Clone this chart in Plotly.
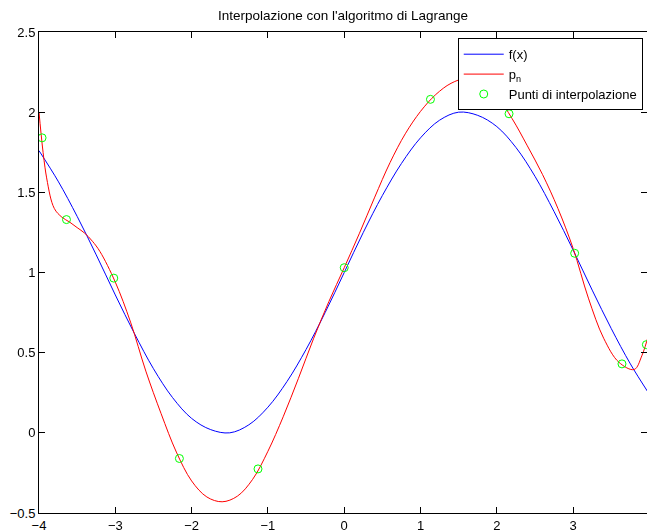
import plotly.graph_objects as go

# f(x) (blue curve)
x_f = [-4.0, -3.75, -3.5, -3.25, -3.0, -2.75, -2.5, -2.25, -2.0, -1.75, -1.5, -1.25,
       -1.0, -0.75, -0.5, -0.25, 0.0, 0.25, 0.5, 0.75, 1.0, 1.25, 1.5, 1.75,
       2.0, 2.25, 2.5, 2.75, 3.0, 3.25, 3.5, 3.75, 4.0]
y_f = [1.76, 1.57, 1.35, 1.11, 0.86, 0.62, 0.40, 0.22, 0.09, 0.02, 0.00, 0.05,
       0.16, 0.32, 0.52, 0.75, 1.00, 1.25, 1.48, 1.68, 1.84, 1.95, 2.00, 1.98,
       1.91, 1.78, 1.60, 1.38, 1.14, 0.89, 0.65, 0.43, 0.24]

# p_n (red curve)
x_pn = [-4.0, -3.9, -3.8, -3.7, -3.6, -3.5, -3.4, -3.3, -3.2, -3.0, -2.8, -2.6,
        -2.4, -2.2, -2.0, -1.8, -1.6, -1.4, -1.2, -1.0, -0.8, -0.6, -0.4, -0.2,
        0.0, 0.2, 0.4, 0.6, 0.8, 1.0, 1.2, 1.4, 1.6, 1.8, 2.0, 2.2, 2.4, 2.6,
        2.8, 3.0, 3.2, 3.4, 3.6, 3.8, 3.9, 4.0]
y_pn = [2.00, 1.59, 1.40, 1.345, 1.315, 1.28, 1.245, 1.195, 1.13, 0.94, 0.69, 0.385,
        0.12, -0.12, -0.30, -0.40, -0.43, -0.395, -0.29, -0.115, 0.10, 0.34, 0.59, 0.82,
        1.03, 1.245, 1.47, 1.685, 1.865, 2.005, 2.11, 2.18, 2.21, 2.18, 2.10, 1.96, 1.79, 1.61,
        1.40, 1.15, 0.84, 0.59, 0.44, 0.395, 0.48, 0.63]

# interpolation points
x_pts = [-3.96, -3.64, -3.02, -2.16, -1.13, 0.0, 1.13, 2.16, 3.02, 3.64, 3.96]
y_pts = [1.84, 1.33, 0.965, -0.16, -0.225, 1.03, 2.08, 1.99, 1.12, 0.43, 0.55]

x_ticks = [-4, -3, -2, -1, 0, 1, 2, 3, 4]
y_ticks = [-0.5, 0, 0.5, 1, 1.5, 2, 2.5]

FONT = "Liberation Sans, Arial, Helvetica, sans-serif"

fig = go.Figure()
fig.add_trace(go.Scatter(x=x_f, y=y_f, mode="lines", name="f(x)",
                         line=dict(color="#0000ff", width=1, shape="spline", smoothing=1)))
fig.add_trace(go.Scatter(x=x_pn, y=y_pn, mode="lines", name="p<sub>n</sub>",
                         line=dict(color="#ff0000", width=1, shape="spline", smoothing=1)))
fig.add_trace(go.Scatter(x=x_pts, y=y_pts, mode="markers", name="Punti di interpolazione",
                         marker=dict(symbol="circle-open", color="#00ff00", size=8,
                                     line=dict(width=1, color="#00ff00"))))
# invisible helper trace on the right-hand tick axis
fig.add_trace(go.Scatter(x=x_pts, y=y_pts, yaxis="y2", mode="markers", opacity=0,
                         showlegend=False, hoverinfo="skip", marker=dict(size=1)))

yr = [-0.5, 2.5]
fig.update_layout(
    width=647, height=531,
    margin=dict(l=39, r=0, t=32, b=18, autoexpand=False),
    paper_bgcolor="white", plot_bgcolor="white",
    font=dict(family=FONT, size=13, color="black"),
    title=dict(text="Interpolazione con l'algoritmo di Lagrange", x=0.5, xref="paper",
               xanchor="center", y=1 - 15.5 / 531, yref="container", yanchor="middle",
               font=dict(size=13.5, color="black"), automargin=False),
    xaxis=dict(range=[-4, 3.968], tickvals=x_ticks, ticks="inside", ticklen=6,
               tickcolor="black", showline=True, linecolor="black", linewidth=1,
               mirror="ticks", showgrid=False, zeroline=False, automargin=False),
    yaxis=dict(range=yr, tickvals=y_ticks, ticks="inside", ticklen=6,
               tickcolor="black", showline=True, linecolor="black", linewidth=1,
               mirror=False, showgrid=False, zeroline=False, automargin=False),
    yaxis2=dict(range=yr, tickvals=y_ticks, ticks="inside", ticklen=6, tickcolor="black",
                overlaying="y", side="right", showline=False, showticklabels=False,
                showgrid=False, zeroline=False, automargin=False),
    legend=dict(x=0.993, y=0.987, xanchor="right", yanchor="top",
                bgcolor="white", bordercolor="black", borderwidth=1,
                font=dict(size=13), tracegroupgap=0, itemwidth=40),
    showlegend=True,
)

fig.write_html("out.html", config={"displayModeBar": False},
               post_script="document.body.style.margin='0px';"
                           "document.body.style.overflow='hidden';")
